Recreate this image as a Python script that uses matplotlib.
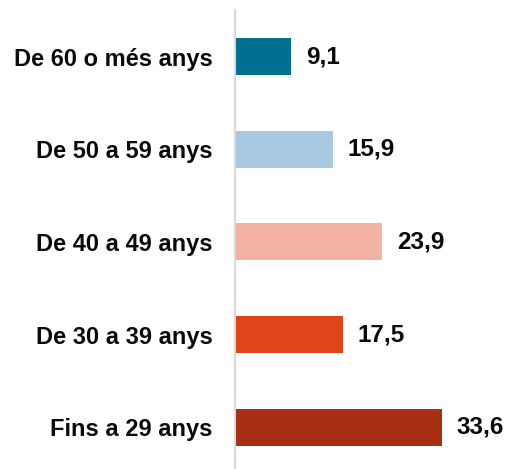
import matplotlib.pyplot as plt

plt.rcParams['font.family'] = ['Liberation Sans', 'DejaVu Sans']

categories = ['Fins a 29 anys', 'De 30 a 39 anys', 'De 40 a 49 anys',
              'De 50 a 59 anys', 'De 60 o més anys']
values = [33.6, 17.5, 23.9, 15.9, 9.1]
colors = ['#a62f14', '#e0441b', '#f4b2a2', '#a8c9e0', '#007090']

fig = plt.figure(figsize=(5.09, 4.69), dpi=100)
ax = fig.add_axes([235 / 509, 0, 1 - 235 / 509, 1 - 10 / 469])

pos = range(len(categories))
ax.barh(pos, values, height=0.4, color=colors)
for p, v in zip(pos, values):
    ax.text(v + 2.4, p, f'{v:.1f}'.replace('.', ','), va='center', ha='left',
            fontsize=17.5, fontweight='bold', color='#0a0a0a')

ax.set_yticks(list(pos))
ax.set_yticklabels(categories, fontsize=17, fontweight='bold', color='#0a0a0a')
ax.tick_params(axis='y', length=0, pad=16)
ax.set_xticks([])
ax.set_xlim(0, 44.5)
ax.set_ylim(-0.454, 4.508)
for s in ['top', 'right', 'bottom']:
    ax.spines[s].set_visible(False)
ax.spines['left'].set_color('#d9d9d9')
ax.spines['left'].set_linewidth(1.5)

fig.savefig('out.png', dpi=100)
